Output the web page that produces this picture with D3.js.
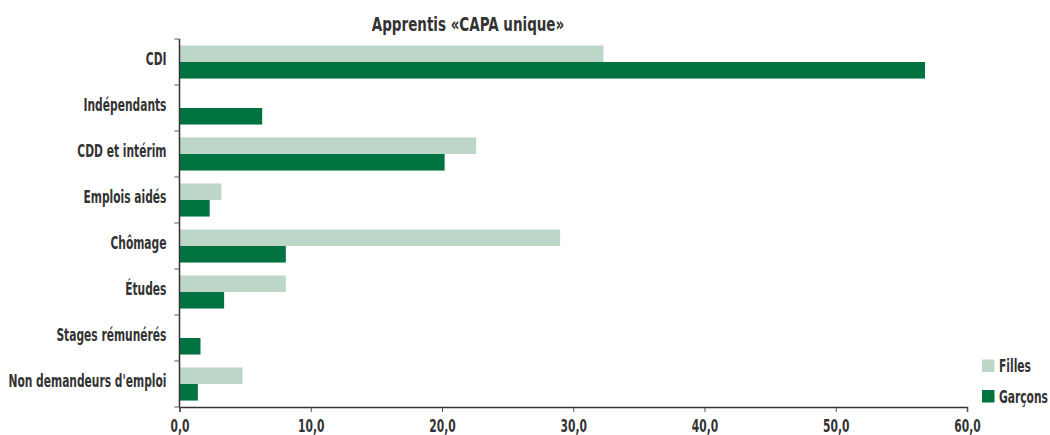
<!DOCTYPE html>
<html><head><meta charset="utf-8">
<script src="https://cdn.jsdelivr.net/npm/d3@7"></script>
<style>
body{margin:0;background:#fff;}
text{font-family:"DejaVu Sans Condensed","DejaVu Sans",sans-serif;font-weight:bold;fill:#333;}
</style></head>
<body><svg id="c" width="1050" height="435"></svg>
<script>
const categories = ["CDI","Indépendants","CDD et intérim","Emplois aidés","Chômage","Études","Stages rémunérés","Non demandeurs d'emploi"];
const seriesNames = ["Filles","Garçons"];
const filles = [32.3, 0, 22.6, 3.2, 29.0, 8.1, 0, 4.8];
const garcons = [56.8, 6.3, 20.2, 2.3, 8.1, 3.4, 1.6, 1.4];
const xTicks = [0,10,20,30,40,50,60];
const colors = ["#bcd7c8","#007340"];
const title = "Apprentis «CAPA unique»";

(function(){
const SX = 0.70, FS = "17px";
const svg = d3.select("#c");
const mL = 179.5, mR = 967, mT = 39, mB = 407;
const x = d3.scaleLinear().domain([0,60]).range([mL,mR]);
const y0 = d3.scaleBand().domain(categories).range([mT,mB]).padding(0);
const y1 = d3.scaleBand().domain(seriesNames).range([0,y0.bandwidth()]).paddingInner(0).paddingOuter(0.39);
const col = d3.scaleOrdinal().domain(seriesNames).range(colors);
const data = [filles, garcons];

function ctext(sel, px, py, anchor, size, str, sx){
  return sel.append("text").attr("transform",`translate(${px},${py}) scale(${sx||SX},1)`)
    .attr("text-anchor",anchor).attr("font-size",size).text(str);
}

const g = svg.append("g");
categories.forEach((c,i)=>{
  seriesNames.forEach((s,j)=>{
    const v = data[j][i];
    if(v>0) g.append("rect")
      .attr("x", x(0)).attr("y", y0(c)+y1(s))
      .attr("width", x(v)-x(0)).attr("height", y1.bandwidth())
      .attr("fill", col(s));
  });
});

const fmt = d => d3.format(".1f")(d).replace(".",",");
const xa = svg.append("g").attr("transform",`translate(0,${mB})`)
  .call(d3.axisBottom(x).tickValues(xTicks).tickFormat(fmt).tickSize(5).tickPadding(8));
xa.attr("font-family",null).attr("font-size",null);
xa.select(".domain").attr("stroke","#333").attr("stroke-width",1.5);
xa.selectAll(".tick line").attr("stroke","#555");
xa.selectAll(".tick text").attr("font-size",FS).attr("fill","#333").attr("dy","0.68em")
  .attr("transform",`scale(${SX},1)`);

svg.append("line").attr("x1",mL).attr("x2",mL).attr("y1",mT).attr("y2",mB).attr("stroke","#333").attr("stroke-width",1.5);
const bounds = categories.map(c=>y0(c)).concat([mB]);
svg.selectAll(".yt").data(bounds).enter().append("line")
  .attr("x1",mL-5).attr("x2",mL).attr("y1",d=>d).attr("y2",d=>d).attr("stroke","#555");
categories.forEach(c=>{
  ctext(svg, 166.5, y0(c)+y0.bandwidth()/2-2.5, "end", FS, c).attr("dy","0.35em");
});

ctext(svg, 468, 30.5, "middle", "20px", title, 0.75);

seriesNames.forEach((s,i)=>{
  const yy = 359.5 + i*30.5;
  svg.append("rect").attr("x",982).attr("y",yy).attr("width",12.5).attr("height",12.5).attr("fill",col(s));
  ctext(svg, 999, yy+12.5, "start", FS, s);
});
})();
</script></body></html>
